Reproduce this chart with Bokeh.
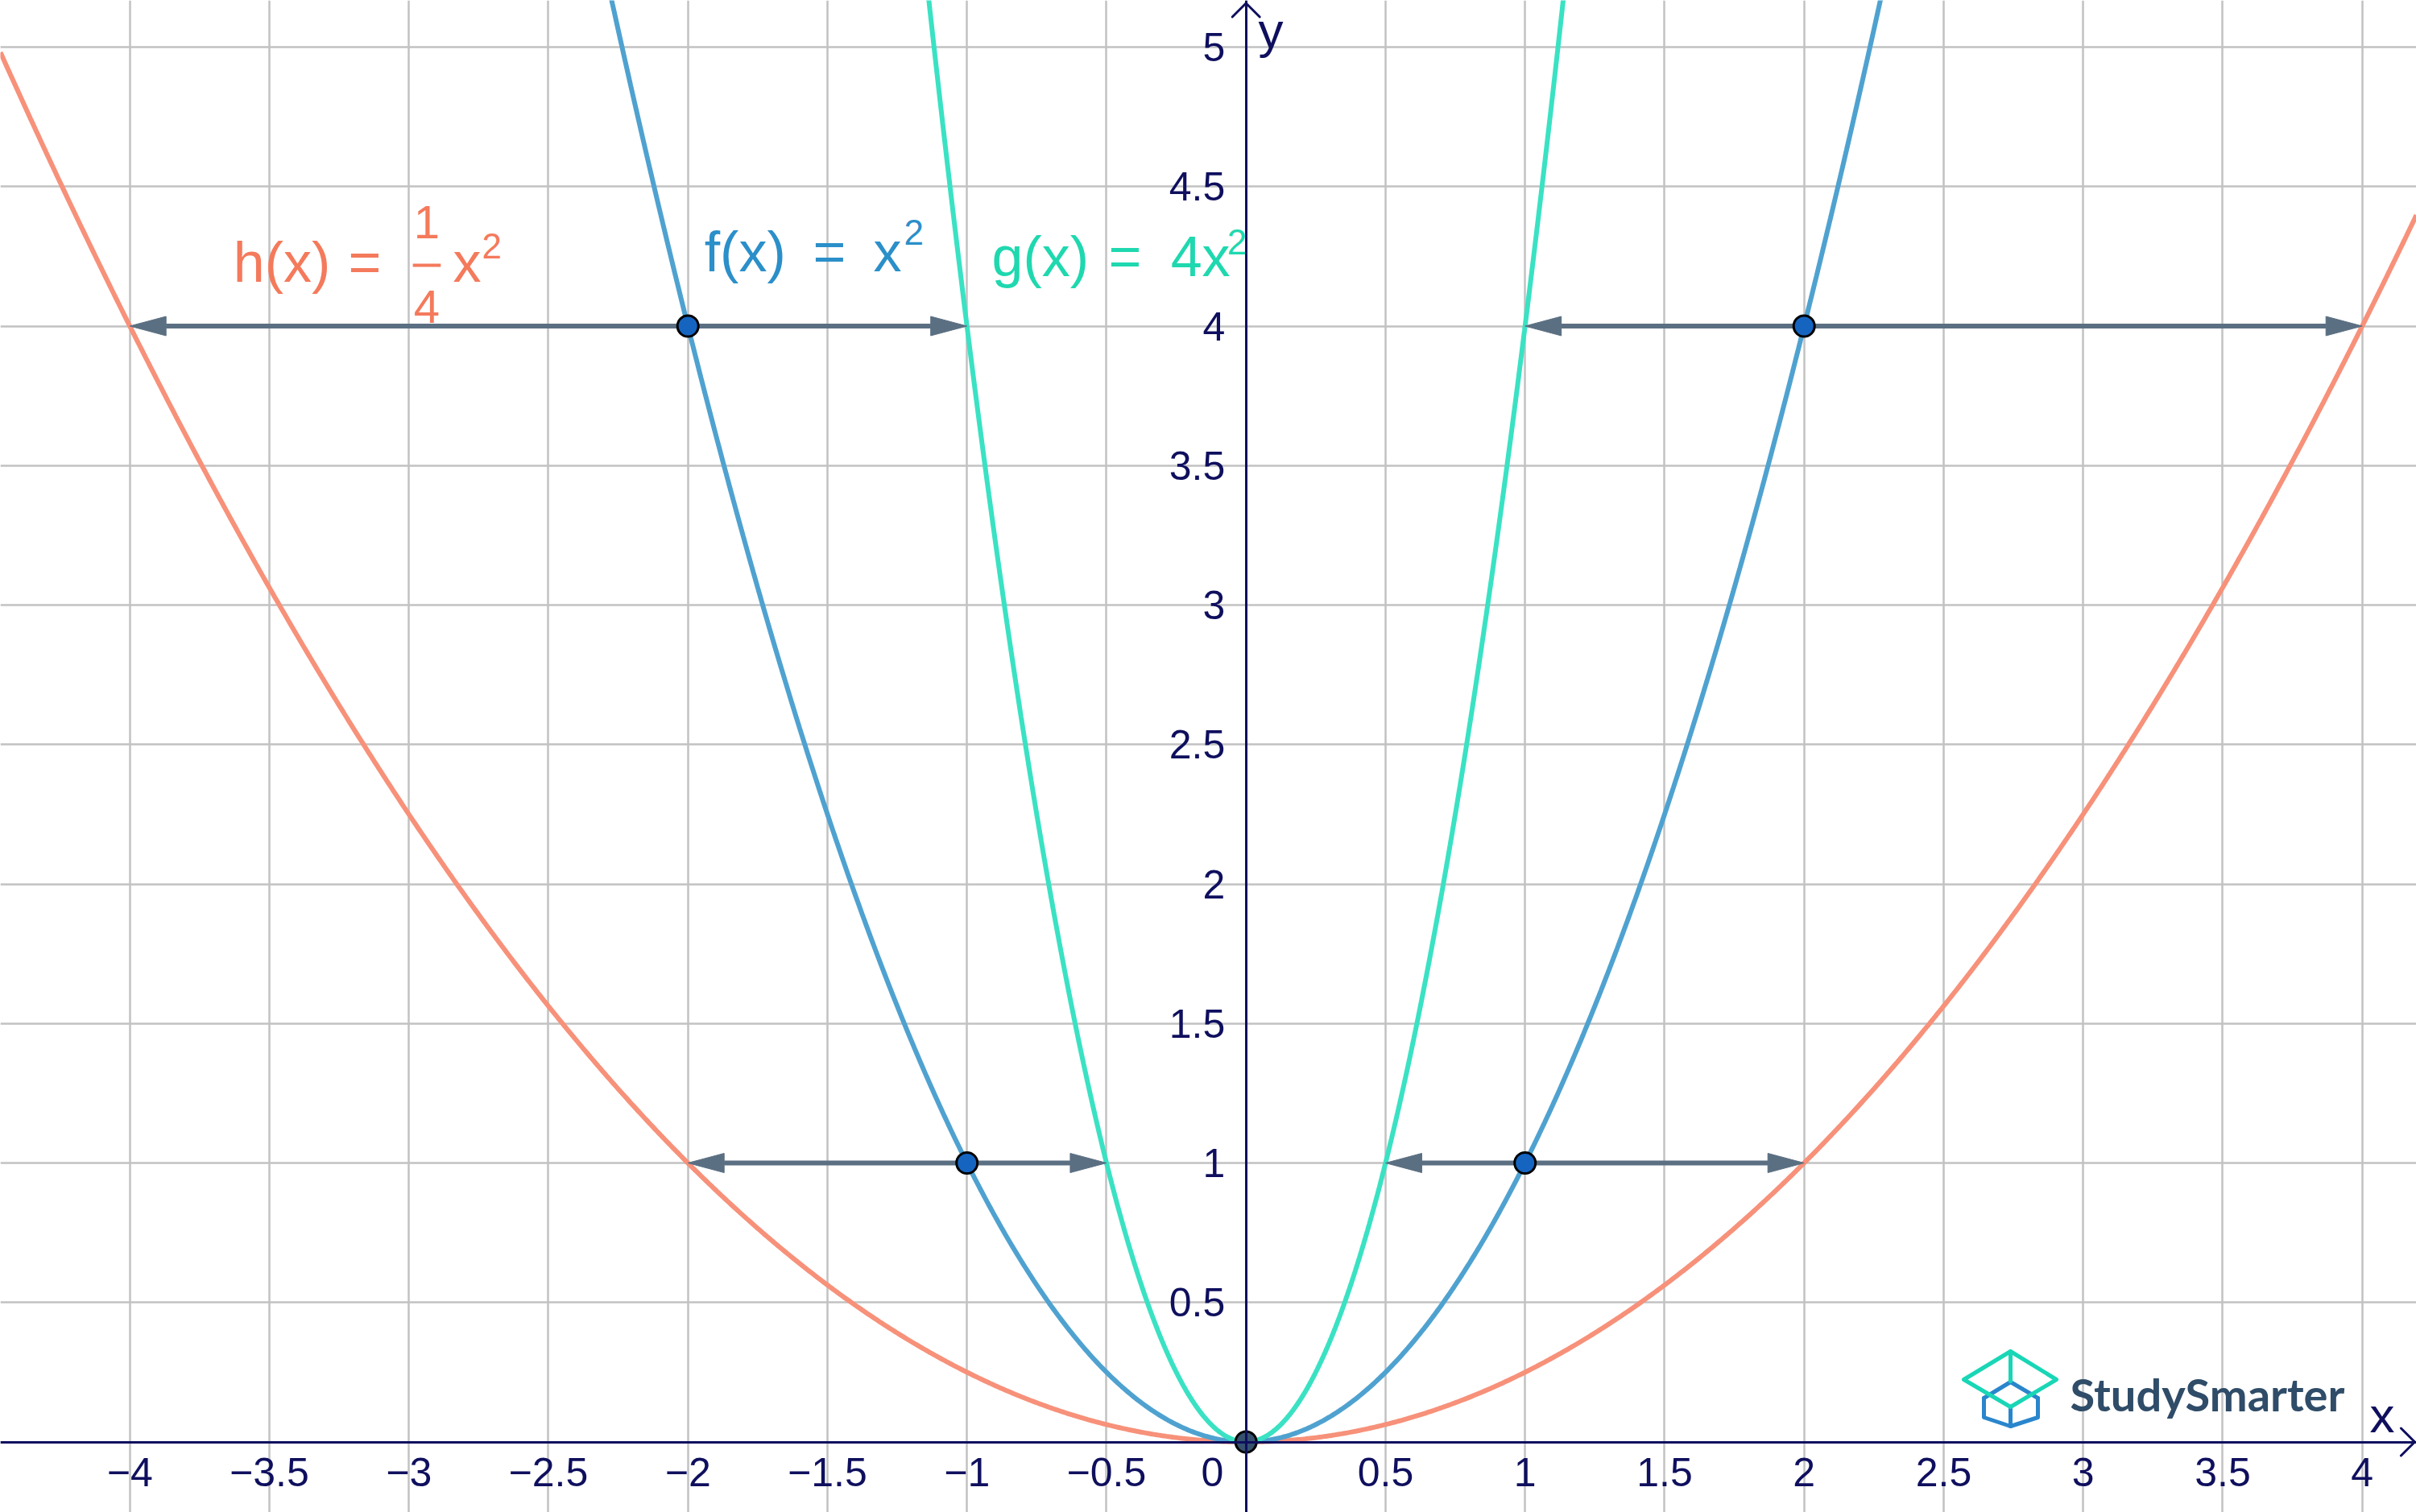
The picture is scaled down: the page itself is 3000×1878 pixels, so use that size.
import numpy as np
from bokeh.plotting import figure
from bokeh.models import LinearAxis, FixedTicker, Grid, Range1d
from bokeh.core.properties import value
from bokeh.embed import file_html
from bokeh.resources import INLINE

# ---------------- data ----------------
func_names = ["h", "f", "g"]
coefficients = [0.25, 1.0, 4.0]

x_ticks = [-4, -3.5, -3, -2.5, -2, -1.5, -1, -0.5, 0.5, 1, 1.5, 2, 2.5, 3, 3.5, 4]
x_tick_labels = ["−4", "−3.5", "−3", "−2.5", "−2", "−1.5", "−1", "−0.5",
                 "0.5", "1", "1.5", "2", "2.5", "3", "3.5", "4"]
y_ticks = [0.5, 1, 1.5, 2, 2.5, 3, 3.5, 4, 4.5, 5]
y_tick_labels = ["0.5", "1", "1.5", "2", "2.5", "3", "3.5", "4", "4.5", "5"]
grid_x = [-4, -3.5, -3, -2.5, -2, -1.5, -1, -0.5, 0, 0.5, 1, 1.5, 2, 2.5, 3, 3.5, 4]
grid_y = [0, 0.5, 1, 1.5, 2, 2.5, 3, 3.5, 4, 4.5, 5]

# points on f(x) = x^2 and the matching points on h and g at equal heights
point_x = [-2, -1, 1, 2]
point_y = [4, 1, 1, 4]
h_point_x = [-4, -2, 2, 4]
g_point_x = [-1, -0.5, 0.5, 1]
origin_x = [0]
origin_y = [0]

# ---------------- styles ----------------
NAVY = "#0f0f5e"
GRID = "#c2c2c2"
curve_colors = ["#f7917a", "#4fa2d0", "#3ae2c3"]
label_colors = ["#f47a5c", "#2b8fc9", "#1fd8af"]
ARROW = "#5b6f82"
FONT = "Liberation Sans"

W_PX, H_PX = 3000, 1878
PX = 346.5                      # pixels per unit (equal aspect)
OX, OY = 1546.7, 1790.5         # pixel position of the origin
X0, X1 = -OX / PX, (W_PX - OX) / PX
Y0, Y1 = (OY - H_PX) / PX, OY / PX

p = figure(width=W_PX, height=H_PX, x_range=Range1d(X0, X1), y_range=Range1d(Y0, Y1),
           x_axis_type=None, y_axis_type=None, toolbar_location=None,
           output_backend="svg", min_border=0, outline_line_color=None)
p.background_fill_color = "white"
p.border_fill_color = "white"

p.add_layout(Grid(dimension=0, ticker=FixedTicker(ticks=grid_x),
                  grid_line_color=GRID, grid_line_width=2.5))
p.add_layout(Grid(dimension=1, ticker=FixedTicker(ticks=grid_y),
                  grid_line_color=GRID, grid_line_width=2.5))

common = dict(axis_line_color=NAVY, axis_line_width=3,
              major_tick_line_color=None, minor_tick_line_color=None,
              major_tick_in=0, major_tick_out=0,
              major_label_text_color=NAVY, major_label_text_font=FONT,
              major_label_text_font_size="50px")
xaxis = LinearAxis(fixed_location=0, ticker=FixedTicker(ticks=[float(t) for t in x_ticks]),
                   major_label_overrides={float(t): s for t, s in zip(x_ticks, x_tick_labels)},
                   major_label_standoff=20, **common)
yaxis = LinearAxis(fixed_location=0, ticker=FixedTicker(ticks=[float(t) for t in y_ticks]),
                   major_label_overrides={float(t): s for t, s in zip(y_ticks, y_tick_labels)},
                   major_label_standoff=26, **common)
p.add_layout(xaxis, "below")
p.add_layout(yaxis, "left")

# axis arrow heads (open chevrons)
a = 17 / PX
tx, ty = X1 - 0.006, Y1 - 0.01
p.segment(x0=[tx, tx, 0, 0], y0=[0, 0, ty, ty],
          x1=[tx - a, tx - a, -a, a], y1=[a, -a, ty - a, ty - a],
          line_color=NAVY, line_width=3, line_cap="round")


def lab(x, y, s, col, size=70, align="left"):
    # baseline correction: the text box is placed ~1/3 em lower than the alphabetic baseline
    p.text(x=[x], y=[y], text=[s], y_offset=-round(0.34 * size),
           text_font=value(FONT), text_font_size=value(f"{size}px"),
           text_color=col, text_baseline="alphabetic", text_align=align)


# axis names
lab(4.027, 0.036, "x", NAVY, 62)
lab(0.044, 5.000, "y", NAVY, 62)
p.text(x=origin_x, y=origin_y, text=["0"], x_offset=-28, y_offset=20,
       text_font=value(FONT), text_font_size=value("50px"), text_color=NAVY,
       text_baseline="top", text_align="right")

# curves
xs = np.linspace(X0, X1, 1201)
for c, col in zip(coefficients, curve_colors):
    p.line(xs, c * xs ** 2, line_color=col, line_width=6)

# horizontal arrows from points on f to h and g
px_ = np.array(point_x + point_x, dtype=float)
py_ = np.array(point_y + point_y, dtype=float)
tip = np.array(h_point_x + g_point_x, dtype=float)
d = np.sign(tip - px_)
L, W = 45 / PX, 24 / PX
base = tip - d * L
p.segment(x0=px_, y0=py_, x1=base, y1=py_, line_color=ARROW, line_width=6)
p.patches(xs=[[t, b, b] for t, b in zip(tip, base)],
          ys=[[y, y + W / 2, y - W / 2] for y in py_],
          fill_color=ARROW, line_color=ARROW, line_width=1)

# points
p.scatter(point_x, point_y, size=26, fill_color="#1565c0", line_color="black", line_width=3)
p.scatter(origin_x, origin_y, size=26, fill_color="#35516d", line_color="black", line_width=3)

# function labels
hc, fc, gc = label_colors
lab(-3.629, 4.160, "h(x)", hc)
lab(-3.217, 4.160, "=", hc)
lab(-2.9357, 4.316, "1", hc, 58, "center")
lab(-2.9357, 4.012, "4", hc, 58, "center")
p.segment(x0=[-2.9357 - 0.05], x1=[-2.9357 + 0.05], y0=[4.218], y1=[4.218],
          line_color=hc, line_width=4)
lab(-2.842, 4.160, "x", hc)
lab(-2.738, 4.244, "2", hc, 44)

lab(-1.941, 4.195, "f(x)", fc)
lab(-1.552, 4.195, "=", fc)
lab(-1.335, 4.195, "x", fc)
lab(-1.226, 4.293, "2", fc, 44)

lab(-0.911, 4.178, "g(x)", gc)
lab(-0.493, 4.178, "=", gc)
lab(-0.270, 4.178, "4x", gc)
lab(-0.068, 4.258, "2", gc, 44)

# StudySmarter logo
cx, cy = (2496 - OX) / PX, (OY - 1713) / PX
def poly(pts):
    return [cx + dx / PX for dx, dy in pts], [cy - dy / PX for dx, dy in pts]
teal_parts = [[(-58, 0), (0, -35), (57, 0), (0, 34), (-58, 0)], [(0, -35), (0, 2)]]
blue_parts = [[(-33, 23), (0, 3), (34, 23)],
              [(-33, 23), (-33, 47), (0, 58), (34, 47), (34, 23)],
              [(0, 34), (0, 58)]]
for parts, col in ((blue_parts, "#2a86cc"), (teal_parts, "#19d6b6")):
    mx, my = zip(*[poly(pt) for pt in parts])
    p.multi_line(xs=list(mx), ys=list(my), line_color=col, line_width=5,
                 line_join="round", line_cap="round")
p.text(x=[(2570 - OX) / PX], y=[(OY - 1750) / PX], text=["StudySmarter"],
       y_offset=-19, text_font=value("Lato"), text_font_size=value("56px"),
       text_font_style="bold", text_color="#2f4c68",
       text_baseline="alphabetic", text_align="left")

open("out.html", "w").write(file_html(p, INLINE))
